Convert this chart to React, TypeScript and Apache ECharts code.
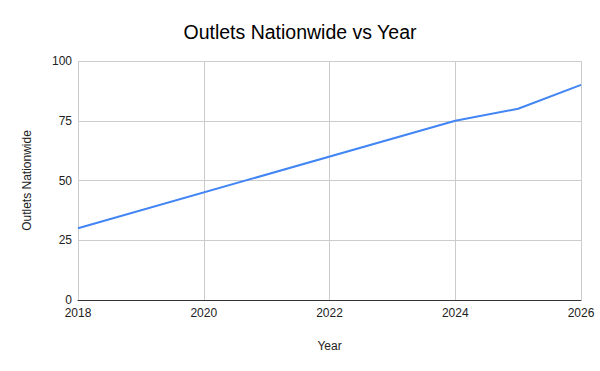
import React, { useEffect, useRef } from "react";
import * as echarts from "echarts";

const years = [2018, 2024, 2025, 2026];
const outlets = [30, 75, 80, 90];
const xTicks = [2018, 2020, 2022, 2024, 2026];
const yTicks = [0, 25, 50, 75, 100];

export default function App() {
  const ref = useRef<HTMLDivElement>(null);
  useEffect(() => {
    const chart = echarts.init(ref.current!, null, { renderer: "svg" });
    const font = "Arial, 'Liberation Sans', sans-serif";
    chart.setOption({
      animation: false,
      backgroundColor: "#ffffff",
      title: {
        text: "Outlets Nationwide vs Year",
        left: "center",
        top: 17,
        textStyle: { fontFamily: font, fontSize: 19.5, fontWeight: "normal", color: "#000000" },
      },
      grid: { left: 78, right: 19, top: 61, bottom: 71, containLabel: false },
      xAxis: {
        type: "value",
        min: xTicks[0],
        max: xTicks[xTicks.length - 1],
        interval: 2,
        name: "Year",
        nameLocation: "middle",
        nameGap: 40,
        nameTextStyle: { fontFamily: font, fontSize: 12, color: "#222222" },
        axisLine: { show: true, lineStyle: { color: "#333333", width: 1 } },
        axisTick: { show: false },
        axisLabel: { fontFamily: font, fontSize: 12, color: "#222222", margin: 7, formatter: (v: number) => String(v) },
        splitLine: { show: true, lineStyle: { color: "#cccccc", width: 1 } },
      },
      yAxis: {
        type: "value",
        min: yTicks[0],
        max: yTicks[yTicks.length - 1],
        interval: 25,
        name: "Outlets Nationwide",
        nameLocation: "middle",
        nameGap: 45,
        nameTextStyle: { fontFamily: font, fontSize: 12, color: "#222222" },
        axisLine: { show: false },
        axisTick: { show: false },
        axisLabel: { fontFamily: font, fontSize: 12, color: "#222222", margin: 6 },
        splitLine: { show: true, lineStyle: { color: "#cccccc", width: 1 } },
      },
      series: [
        {
          type: "line",
          data: years.map((y, i) => [y, outlets[i]]),
          showSymbol: false,
          symbol: "none",
          lineStyle: { color: "#4285f4", width: 2 },
          itemStyle: { color: "#4285f4" },
        },
      ],
    });
    return () => chart.dispose();
  }, []);
  return <div ref={ref} style={{ width: 600, height: 371, position: "absolute", left: 0, top: 0 }} />;
}
